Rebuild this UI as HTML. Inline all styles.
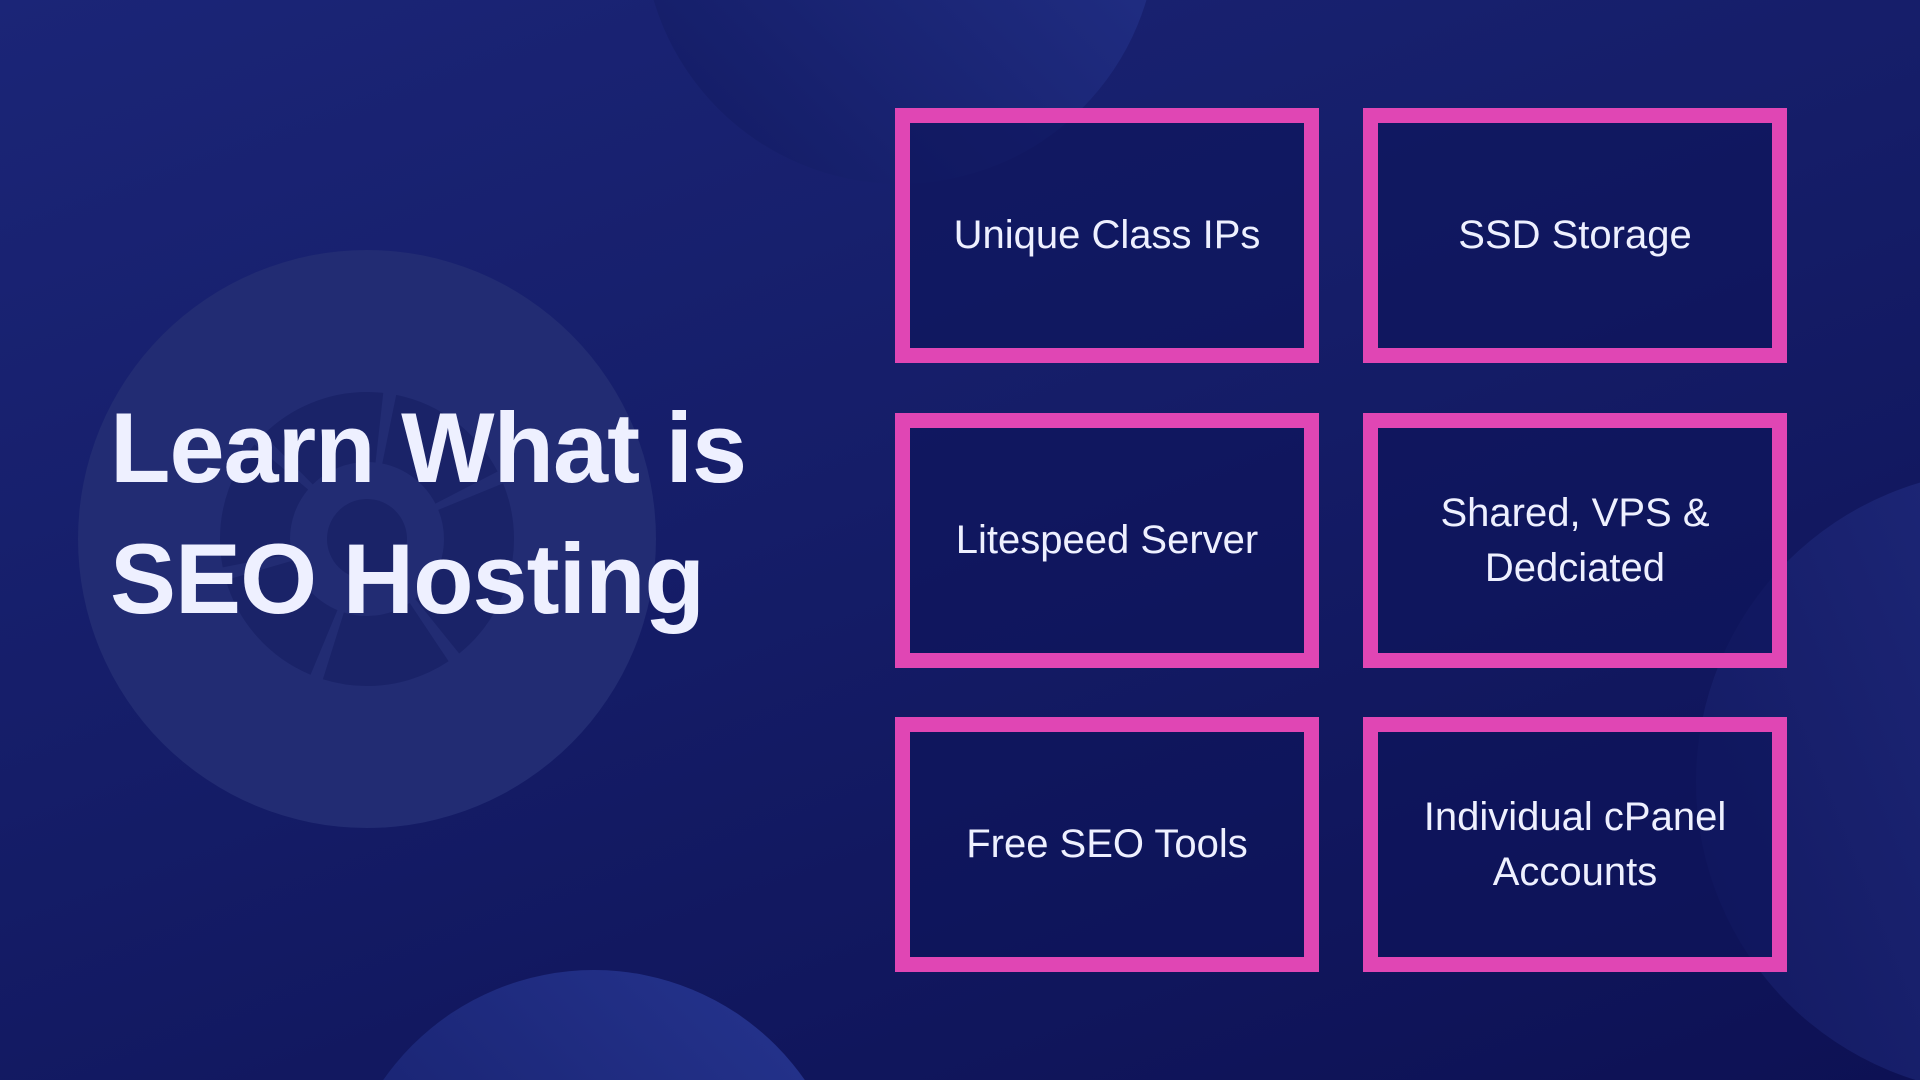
<!DOCTYPE html>
<html><head><meta charset="utf-8"><style>
html,body{margin:0;padding:0;width:1920px;height:1080px;overflow:hidden}
#w{width:1920px;height:1080px;overflow:hidden;position:relative;
background:linear-gradient(160deg,#1b2577 0%,#151d68 45%,#0d1154 100%);
font-family:"Liberation Sans",sans-serif;}
.box{position:absolute;width:394px;height:225px;border:15px solid #e046b4;
display:flex;align-items:center;justify-content:center;text-align:center;
color:#eef0ff;font-size:40px;line-height:55px;background:rgba(14,20,90,0.6)}
h1{position:absolute;left:110px;top:382px;margin:0;color:#eef0ff;font-size:99px;line-height:131px;font-weight:bold;letter-spacing:-1px}
</style></head><body><div id="w">
<svg style="position:absolute;left:0;top:0" width="1920" height="1080">
<defs>
<linearGradient id="g1" x1="1" y1="0" x2="0" y2="1"><stop offset="0" stop-color="#263590"/><stop offset="1" stop-color="#121a62"/></linearGradient>
<linearGradient id="g2" x1="1" y1="0.3" x2="0" y2="0.7"><stop offset="0" stop-color="#222d82"/><stop offset="1" stop-color="#141b64"/></linearGradient>
</defs>
<circle cx="900" cy="-73" r="257" fill="url(#g1)"/>
<circle cx="594" cy="1227" r="257" fill="url(#g1)"/>
<circle cx="2008" cy="782" r="312" fill="url(#g2)"/>
<circle cx="367" cy="539" r="289" fill="#222c73"/>
<g transform="translate(367,539)" fill="none" stroke="#1a2368" stroke-width="70">
<circle r="112" stroke-dasharray="100 10"/>
</g>
<circle cx="367" cy="539" r="40" fill="#1a2368"/>
</svg>
<h1>Learn What is<br>SEO Hosting</h1>
<div class="box" style="left:895px;top:108px">Unique Class IPs</div>
<div class="box" style="left:1363px;top:108px">SSD Storage</div>
<div class="box" style="left:895px;top:413px">Litespeed Server</div>
<div class="box" style="left:1363px;top:413px">Shared, VPS &amp;<br>Dedciated</div>
<div class="box" style="left:895px;top:717px">Free SEO Tools</div>
<div class="box" style="left:1363px;top:717px">Individual cPanel<br>Accounts</div>
</div></body></html>
